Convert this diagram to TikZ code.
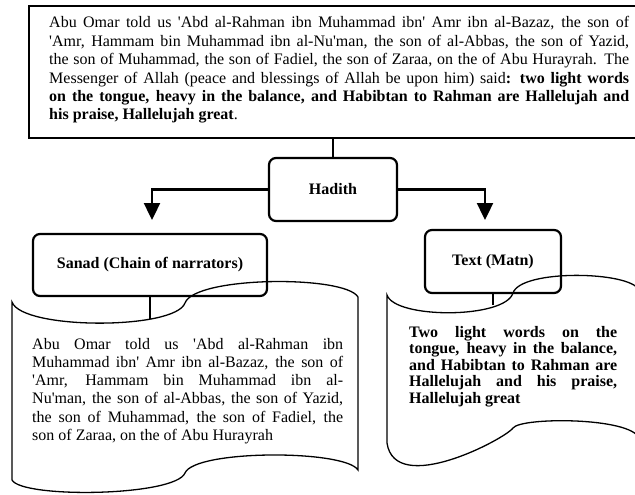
\documentclass[tikz,border=0pt]{standalone}
\usepackage{fontspec}
\setmainfont{Liberation Serif}[Ligatures=TeXOff]
\usetikzlibrary{arrows.meta}
\newcommand\jl[2]{{\spaceskip=0pt\xspaceskip=0pt\makebox[#1][s]{#2}}}
\begin{document}
\begin{tikzpicture}[x=1pt,y=-1pt,
  box/.style={draw, line width=2.2pt, rounded corners=7pt, inner sep=0pt,
    font=\bfseries\fontsize{16}{18}\selectfont},
  conn/.style={line width=1.2pt},
  arr/.style={line width=2.4pt, -{Triangle[width=16pt,length=17pt]}},
  scroll/.style={line width=1.3pt},
  txt/.style={inner sep=0pt, anchor=base west, align=left}]
\useasboundingbox (0,0) rectangle (635,495);
% top box
\node[draw, line width=1.6pt, minimum width=614pt, minimum height=132pt,
  anchor=north west, inner sep=0pt] (topbox) at (28,5) {};
\node[txt, text width=580pt, font=\fontsize{16}{18.4}\selectfont] (toptext) at (49,28)
 {\spaceskip=0pt\xspaceskip=0pt
  \jl{580pt}{Abu Omar told us 'Abd al-Rahman ibn Muhammad ibn' Amr ibn al-Bazaz, the son of}\\
  \jl{580pt}{'Amr, Hammam bin Muhammad ibn al-Nu'man, the son of al-Abbas, the son of Yazid,}\\
  \jl{580pt}{the son of Muhammad, the son of Fadiel, the son of Zaraa, on the of Abu Hurayrah. The}\\
  \jl{580pt}{Messenger of Allah (peace and blessings of Allah be upon him) said\textbf{: two light words}}\\
  \jl{580pt}{\bfseries on the tongue, heavy in the balance, and Habibtan to Rahman are Hallelujah and}\\
  \textbf{his praise, Hallelujah great}.};
% boxes
\node[box, minimum width=128pt, minimum height=63pt] (hadith) at (333,189.5) {Hadith};
\node[box, minimum width=234pt, minimum height=62pt] (sanad) at (150,265) {Sanad (Chain of narrators)};
\node[box, minimum width=136pt, minimum height=63pt] (matn) at (493,261.5) {Text (Matn)};
% connectors
\draw[conn] (hadith.north |- topbox.south) -- (hadith.north);
\coordinate (ltip) at (152,220);
\coordinate (rtip) at (485,220);
\draw[arr] (hadith.west) -| (ltip);
\draw[arr] (hadith.east) -| (rtip);
\coordinate (lscr) at (150,319);
\coordinate (rscr) at (493,305);
\draw[conn] (sanad.south) -- (lscr);
\draw[conn] (matn.south) -- (rscr);
% left scroll
\draw[scroll] (12,302) .. controls (22,330) and (175,330) .. (185,303)
  .. controls (195,276) and (345,275) .. (358,297) -- (358,470)
  .. controls (345,449.5) and (195,449.5) .. (185,473)
  .. controls (175,496.5) and (22,498.5) .. (12,480) -- cycle;
% right scroll
\draw[scroll] (387,295) .. controls (395,319) and (505,319) .. (513,293)
  .. controls (521,269) and (630,271) .. (639,290) -- (639,438)
  .. controls (630,417) and (521,417) .. (513,428)
  .. controls (505,439) and (395,497) .. (387,443) -- cycle;
% scroll texts
\node[txt, text width=311pt, font=\fontsize{16}{18.3}\selectfont] (sanadtext) at (32,349)
 {\spaceskip=0pt\xspaceskip=0pt
  \jl{311pt}{Abu Omar told us 'Abd al-Rahman ibn}\\
  \jl{311pt}{Muhammad ibn' Amr ibn al-Bazaz, the son of}\\
  \jl{311pt}{'Amr, Hammam bin Muhammad ibn al-}\\
  \jl{311pt}{Nu'man, the son of al-Abbas, the son of Yazid,}\\
  \jl{311pt}{the son of Muhammad, the son of Fadiel, the}\\
  son of Zaraa, on the of Abu Hurayrah};
\node[txt, text width=208pt, font=\bfseries\fontsize{16}{16.6}\selectfont] (matntext) at (409,337)
 {\spaceskip=0pt\xspaceskip=0pt
  \jl{208pt}{Two light words on the}\\
  \jl{208pt}{tongue, heavy in the balance,}\\
  \jl{208pt}{and Habibtan to Rahman are}\\
  \jl{208pt}{Hallelujah and his praise,}\\
  Hallelujah great};
\end{tikzpicture}
\end{document}
